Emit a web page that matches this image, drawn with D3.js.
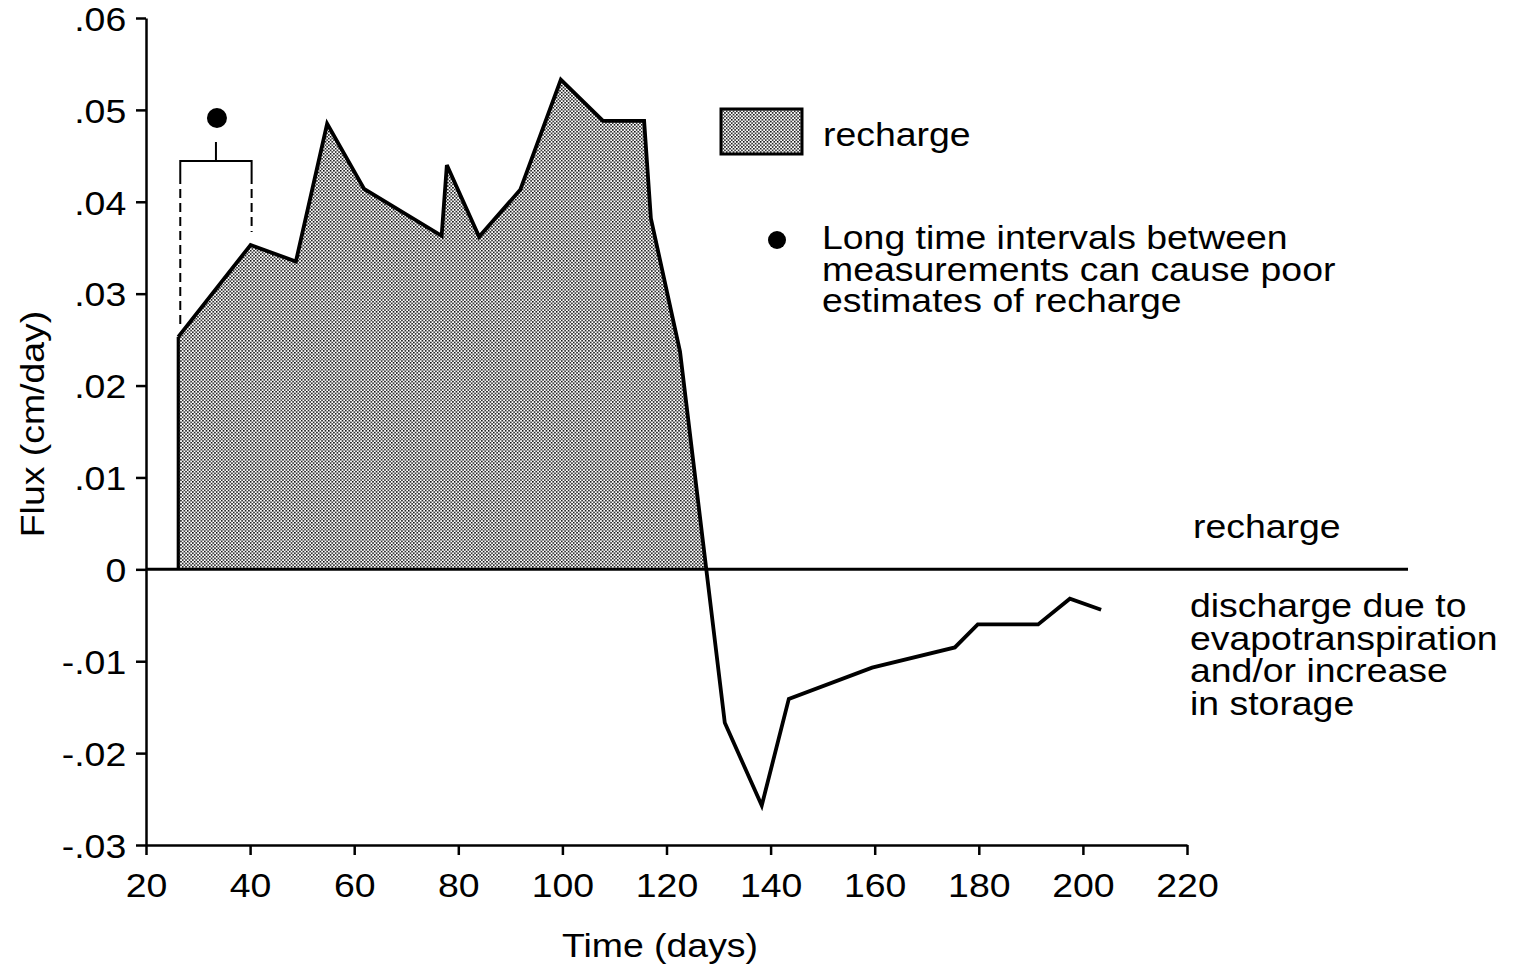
<!DOCTYPE html>
<html>
<head>
<meta charset="utf-8">
<script src="https://cdn.jsdelivr.net/npm/d3@7"></script>
<style>
  html, body { margin: 0; padding: 0; background: #fff; }
  svg { display: block; }
  text { font-family: "Liberation Sans", Arial, Helvetica, sans-serif; fill: #000; }
</style>
</head>
<body>
<svg id="chart" width="1515" height="971"></svg>
<script>
// ---- data ----
const days = [26.2, 40.1, 48.8, 54.8, 61.9, 76.8, 77.8, 84.0, 91.9, 99.7, 107.8, 115.7, 117.0, 122.6,
              131.2, 138.3, 143.5, 159.5, 175.4, 179.8, 191.4, 197.5, 203.5];
const flux = [0.0253, 0.0353, 0.0335, 0.0485, 0.0414, 0.0363, 0.0440, 0.0362, 0.0413, 0.0533, 0.0488, 0.0488, 0.0382, 0.0237,
              -0.0167, -0.0257, -0.0141, -0.0107, -0.0085, -0.0060, -0.0060, -0.0032, -0.0044];
const xTicks = [20, 40, 60, 80, 100, 120, 140, 160, 180, 200, 220];
const yTicks = [-0.03, -0.02, -0.01, 0, 0.01, 0.02, 0.03, 0.04, 0.05, 0.06];
const xLabel = "Time (days)";
const yLabel = "Flux (cm/day)";
const legendLabel = "recharge";
const noteLines = ["Long time intervals between", "measurements can cause poor", "estimates of recharge"];
const upperLabel = "recharge";
const lowerLines = ["discharge due to", "evapotranspiration", "and/or increase", "in storage"];

// ---- layout ----
const FS = 34, SX = 1.1;
const svg = d3.select("#chart");
const x = d3.scaleLinear().domain([20, 220]).range([146, 1187]);
const y = d3.scaleLinear().domain([-0.03, 0.06]).range([845, 18]);
const data = days.map((d, i) => ({ d, v: flux[i] }));

// pattern
const defs = svg.append("defs");
const pat = defs.append("pattern").attr("id", "dots").attr("patternUnits", "userSpaceOnUse")
  .attr("width", 3.4).attr("height", 3.4);
pat.append("rect").attr("width", 3.4).attr("height", 3.4).attr("fill", "#fff");
pat.append("rect").attr("x", 0).attr("y", 0).attr("width", 1.5).attr("height", 1.5).attr("fill", "#000");
pat.append("rect").attr("x", 1.7).attr("y", 1.7).attr("width", 1.5).attr("height", 1.5).attr("fill", "#000");
defs.append("clipPath").attr("id", "above").append("rect")
  .attr("x", 0).attr("y", 0).attr("width", 1515).attr("height", y(0));

function txt(g, tx, ty, s, anchor) {
  return g.append("text").attr("transform", `translate(${tx},${ty}) scale(${SX},1)`)
    .attr("text-anchor", anchor || "start").attr("font-size", FS).text(s);
}

// area (recharge)
svg.append("path").datum(data)
  .attr("clip-path", "url(#above)")
  .attr("fill", "url(#dots)")
  .attr("d", d3.area().x(p => x(p.d)).y0(y(0)).y1(p => y(p.v)));

// zero line
svg.append("line").attr("x1", x(20)).attr("x2", 1408).attr("y1", y(0)).attr("y2", y(0))
  .attr("stroke", "#000").attr("stroke-width", 3);

// data line
svg.append("path").datum(data).attr("fill", "none").attr("stroke", "#000")
  .attr("stroke-width", 3.8).attr("stroke-linejoin", "miter")
  .attr("d", d3.line().x(p => x(p.d)).y(p => y(p.v)));
// left vertical edge of the recharge area
svg.append("line").attr("x1", x(days[0])).attr("x2", x(days[0]))
  .attr("y1", y(0)).attr("y2", y(flux[0])).attr("stroke", "#000").attr("stroke-width", 3.2);

// axes
const yAxis = svg.append("g").attr("transform", `translate(${x(20)},0)`)
  .call(d3.axisLeft(y).tickValues(yTicks).tickSize(10).tickSizeOuter(0).tickPadding(8)
    .tickFormat(v => v === 0 ? "0" : d3.format(".2f")(v).replace("\u2212", "-").replace("0.", ".")));
const xAxis = svg.append("g").attr("transform", `translate(0,${y(-0.03)})`)
  .call(d3.axisBottom(x).tickValues(xTicks).tickSize(10).tickSizeOuter(0).tickPadding(18));
[yAxis, xAxis].forEach(g => {
  g.select(".domain").attr("stroke-width", 2.5);
  g.selectAll(".tick line").attr("stroke-width", 2.5);
  g.selectAll("text").attr("font-size", FS).attr("font-family", '"Liberation Sans", Arial, sans-serif')
    .attr("fill", "#000").attr("transform", `scale(${SX},1)`);
});
yAxis.selectAll("text").attr("dy", "0.36em");

// axis titles
svg.append("text").attr("transform", `translate(44,${424}) rotate(-90) scale(${SX},1)`)
  .attr("text-anchor", "middle").attr("font-size", FS).text(yLabel);
txt(svg, 660, 957, xLabel, "middle");

// bracket annotation over first interval
const bL = x(days[0]) + 2, bR = x(days[1]) + 1, bTop = 161, bMid = (bL + bR) / 2;
const br = svg.append("g").attr("stroke", "#000").attr("fill", "none").attr("stroke-width", 2);
br.append("path").attr("d", `M${bL},175 V${bTop} H${bR} V175`);
br.append("line").attr("x1", bMid).attr("x2", bMid).attr("y1", 142).attr("y2", bTop);
br.append("line").attr("x1", bL).attr("x2", bL).attr("y1", 175).attr("y2", y(flux[0]) - 12)
  .attr("stroke-dasharray", "9,5");
br.append("line").attr("x1", bR).attr("x2", bR).attr("y1", 175).attr("y2", y(flux[1]) - 13)
  .attr("stroke-dasharray", "9,5");
svg.append("circle").attr("cx", bMid + 1).attr("cy", 118).attr("r", 10).attr("fill", "#000");

// legend
svg.append("rect").attr("x", 721).attr("y", 109).attr("width", 81).attr("height", 45)
  .attr("fill", "url(#dots)").attr("stroke", "#000").attr("stroke-width", 3);
txt(svg, 823, 146, legendLabel);
svg.append("circle").attr("cx", 777).attr("cy", 240).attr("r", 9).attr("fill", "#000");
noteLines.forEach((s, i) => txt(svg, 822, 249 + i * 31.5, s));

// right annotations
txt(svg, 1193, 538, upperLabel);
lowerLines.forEach((s, i) => txt(svg, 1190, 617 + i * 32.5, s));
</script>
</body>
</html>
